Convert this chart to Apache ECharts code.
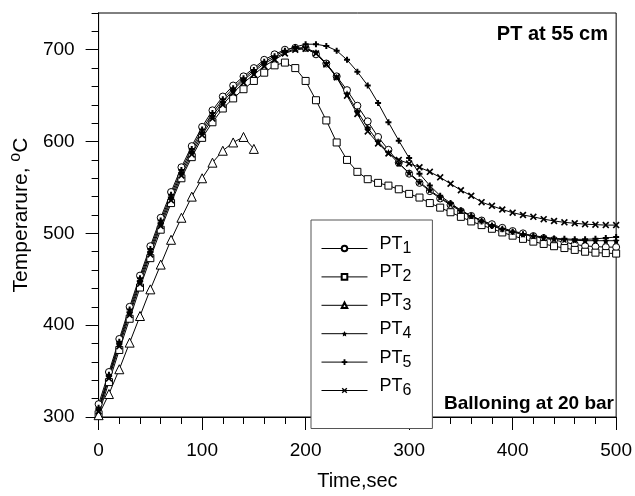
<!DOCTYPE html>
<html>
<head>
<meta charset="utf-8">
<script src="https://cdn.jsdelivr.net/npm/echarts@6/dist/echarts.min.js"></script>
<style>
html, body { margin: 0; padding: 0; background: #fff; }
#chart { width: 635px; height: 496px; }
</style>
</head>
<body>
<div id="chart"></div>
<script>
// time axis, sec
var time = [0, 10, 20, 30, 40, 50, 60, 70, 80, 90, 100, 110, 120, 130, 140, 150, 160, 170, 180, 190, 200,
    210, 220, 230, 240, 250, 260, 270, 280, 290, 300, 310, 320, 330, 340, 350, 360, 370, 380, 390, 400,
    410, 420, 430, 440, 450, 460, 470, 480, 490, 500];

// temperatures, oC
var pt1 = [314, 349, 385, 420, 454, 486, 517, 545, 572, 595, 616, 634, 649, 661, 671, 680, 689, 695, 700, 702, 702,
    695, 685, 671, 656, 639, 622, 605, 591, 577, 565, 555, 546, 538, 531, 524, 519, 514, 510, 506, 502.5,
    500, 497, 494.7, 492.8, 490.4, 488, 486.3, 485.6, 485, 485];
var pt2 = [303, 338, 373, 407, 441, 473, 504, 533, 560, 583, 604, 621, 636, 647, 657, 666, 675, 683, 686, 680, 666,
    645, 623, 599, 580, 567, 559, 555, 552, 548, 543, 539, 533, 528, 523, 518, 513, 509, 505, 501, 497.5,
    494, 491, 488.5, 486, 484, 482, 480, 479, 478.5, 478];
var pt3 = [302, 325, 352, 381, 410, 439, 466, 493, 517, 540, 560, 577, 590, 599, 605, 592];
var pt4 = [308, 344, 380, 414, 448, 480, 511, 539, 566, 589, 610, 628, 643, 656, 667, 676, 685, 691, 697, 701, 702,
    697, 685, 670, 652, 633, 615, 600, 588, 576, 566, 556, 547, 539, 532, 525, 519, 514, 509, 505, 502,
    499, 497, 495, 494, 493, 492.5, 492, 492, 492, 492];
var pt5 = [310, 346, 382, 417, 451, 483, 514, 542, 569, 592, 613, 631, 646, 658, 669, 678, 687, 693, 699, 703, 706,
    706, 704, 699, 689, 676, 661, 642, 621, 601, 582, 565, 552, 541, 533, 525, 519, 513, 508, 504.5, 501.5,
    499, 497.5, 496, 494.5, 494, 493.5, 493.5, 494, 495, 496];
var pt6 = [306, 342, 377, 411, 445, 477, 508, 536, 563, 586, 607, 625, 640, 653, 664, 673, 682, 689, 696, 700, 701,
    696, 684, 670, 650, 630, 611, 598, 587, 580, 576, 572, 567, 561, 554, 547, 541, 534, 530, 526, 522.5,
    520, 518, 515.5, 513.5, 512, 511, 510, 509.5, 509, 509];

var xTicks = [0, 100, 200, 300, 400, 500];
var yTicks = [300, 400, 500, 600, 700];

var FONT = 'Liberation Sans, Arial, sans-serif';

function pairs(vals) {
    return vals.map(function (v, i) { return [time[i], v]; });
}

var STAR = 'path://M0,-10 L2.9,-4 L9.5,-3.1 L4.8,1.5 L5.9,8.1 L0,5 L-5.9,8.1 L-4.8,1.5 L-9.5,-3.1 L-2.9,-4 Z';
var PLUS = 'path://M-2,-6 L2,-6 L2,-2 L6,-2 L6,2 L2,2 L2,6 L-2,6 L-2,2 L-6,2 L-6,-2 L-2,-2 Z';
var CROSS = 'path://M-6,-4 L-4,-6 L0,-2 L4,-6 L6,-4 L2,0 L6,4 L4,6 L0,2 L-4,6 L-6,4 L-2,0 Z';

function line(name, vals, symbol, size, filled) {
    return {
        name: name,
        type: 'line',
        xAxisIndex: 0,
        yAxisIndex: 0,
        data: pairs(vals),
        symbol: symbol,
        symbolSize: size,
        showAllSymbol: true,
        animation: false,
        lineStyle: { color: '#000', width: 1 },
        itemStyle: {
            color: filled ? '#000' : '#fff',
            borderColor: '#000',
            borderWidth: filled ? 0 : 1
        }
    };
}

var chart = echarts.init(document.getElementById('chart'));

var axisLine = { show: true, lineStyle: { color: '#000', width: 1 } };

var option = {
    backgroundColor: '#fff',
    animation: false,
    grid: {
        left: 97, right: 15, top: 13, bottom: 78,
        show: true, borderColor: '#000', borderWidth: 1, backgroundColor: 'transparent'
    },
    xAxis: [{
        type: 'value', min: 0, max: 500, interval: 20, position: 'bottom',
        axisLine: axisLine,
        axisTick: { length: 7, lineStyle: { color: '#000' } },
        axisLabel: { show: false },
        splitLine: { show: false }
    }, {
        type: 'value', min: 0, max: 500, interval: 100, position: 'bottom',
        axisLine: axisLine,
        axisTick: { length: 13, lineStyle: { color: '#000' } },
        axisLabel: { color: '#000', fontSize: 19, fontFamily: FONT, margin: 24 },
        splitLine: { show: false },
        name: 'Time,sec',
        nameLocation: 'middle',
        nameGap: 54,
        nameTextStyle: { color: '#000', fontSize: 20, fontFamily: FONT }
    }],
    yAxis: [{
        type: 'value', min: 300, max: 740, interval: 20,
        axisLine: axisLine,
        axisTick: { length: 7, lineStyle: { color: '#000' } },
        axisLabel: { show: false },
        splitLine: { show: false }
    }, {
        type: 'value', min: 300, max: 740, interval: 20, position: 'left',
        axisLine: axisLine,
        axisTick: { length: 13, customValues: yTicks, lineStyle: { color: '#000' } },
        axisLabel: { customValues: yTicks, color: '#000', fontSize: 19, fontFamily: FONT, margin: 24 },
        splitLine: { show: false },
        name: '{a|Temperarure, }{s|o}{a|C}',
        nameLocation: 'middle',
        nameGap: 57,
        nameTextStyle: {
            color: '#000',
            rich: {
                a: { fontSize: 21, fontFamily: FONT, color: '#000' },
                s: { fontSize: 16, fontFamily: FONT, color: '#000', padding: [0, 0, 11, 0] }
            }
        }
    }],
    legend: {
        orient: 'vertical',
        left: 311, top: 220,
        backgroundColor: '#fff',
        borderColor: '#555', borderWidth: 1,
        padding: [15, 21, 30, 10],
        itemWidth: 46, itemHeight: 7, itemGap: 6.9,
        lineStyle: { width: 1 },
        formatter: function (name) { return '{a|PT}{b|' + name.slice(2) + '}'; },
        textStyle: {
            rich: {
                a: { fontSize: 18, fontFamily: FONT, color: '#000', padding: [0, 0, 9, 7] },
                b: { fontSize: 16, fontFamily: FONT, color: '#000' }
            }
        },
        data: ['PT1', 'PT2', 'PT3', 'PT4', 'PT5', 'PT6']
    },
    graphic: [{
        type: 'text', right: 27, top: 24,
        style: { text: 'PT at 55 cm', font: 'bold 20px ' + FONT, fill: '#000' }
    }, {
        type: 'text', right: 21, top: 394,
        style: { text: 'Balloning at 20 bar', font: 'bold 19px ' + FONT, fill: '#000' }
    }],
    series: [
        line('PT1', pt1, 'circle', 7, false),
        line('PT2', pt2, 'rect', 7, false),
        line('PT3', pt3, 'triangle', 9, false),
        line('PT4', pt4, STAR, 7, true),
        line('PT5', pt5, PLUS, 6, true),
        line('PT6', pt6, CROSS, 7, true)
    ]
};

chart.setOption(option);
</script>
</body>
</html>
